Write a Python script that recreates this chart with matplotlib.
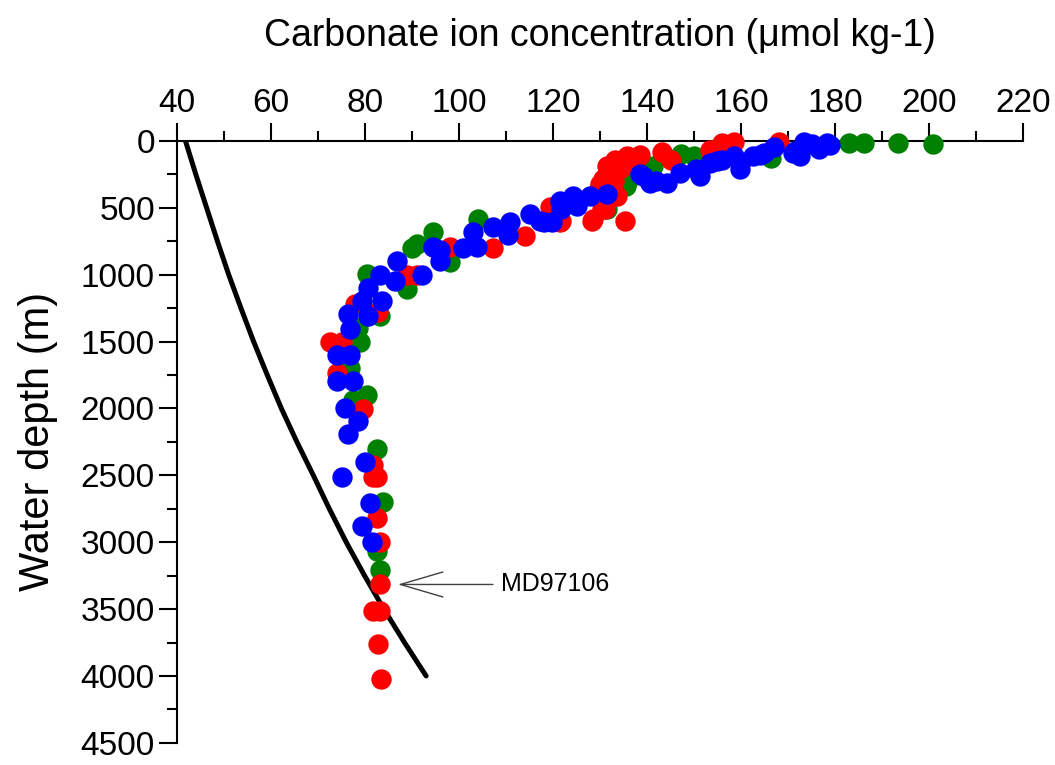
import matplotlib
matplotlib.use('Agg')
import matplotlib.pyplot as plt
from matplotlib.ticker import MultipleLocator

plt.rcParams['font.family'] = ['Liberation Sans', 'DejaVu Sans']

# saturation curve
curve_d = [0, 250, 500, 750, 1000, 1250, 1500, 1750, 2000, 2250, 2500, 2750,
           3000, 3250, 3500, 3750, 4000]
curve_x = [41.8, 44.0, 46.3, 48.6, 51.0, 53.6, 56.3, 59.2, 62.2, 65.5, 69.0, 72.4,
           76.0, 79.9, 84.0, 88.4, 93.0]

green_x = [183.0, 186.2, 193.4, 200.8, 147.3, 150.0, 141.3, 166.3, 136.0, 135.5,
           131.4, 104.0, 94.4, 89.9, 91.0, 98.1, 88.9, 80.4, 83.2, 78.6,
           78.9, 76.8, 80.4, 77.5, 82.5, 83.9, 82.5, 83.2]
green_d = [15, 15, 15, 25, 100, 115, 190, 130, 290, 337,
           508, 585, 680, 800, 770, 905, 1110, 995, 1310, 1400,
           1500, 1700, 1896, 1935, 2302, 2700, 3063, 3211]

red_x = [155.9, 158.6, 168.0, 156.2, 153.4, 143.1, 145.0, 138.5, 135.7, 133.2,
         136.8, 131.4, 134.5, 131.5, 130.7, 132.1, 129.8, 133.6, 130.4, 128.6,
         135.3, 121.8, 119.4, 121.5, 128.2, 131.1, 114.0, 107.2, 98.1, 88.9,
         91.0, 77.9, 82.8, 72.6, 75.0, 74.0, 79.6, 81.8, 81.8, 82.5,
         82.5, 83.2, 83.2, 81.8, 83.2, 82.8, 83.5, 132.5, 134.0, 137.5,
         130.0, 133.0]
red_d = [17, 5, 5, 42, 66, 80, 140, 103, 115, 140,
         130, 189, 200, 250, 287, 337, 360, 410, 508, 582,
         595, 595, 494, 604, 597, 508, 707, 803, 789, 1000,
         1005, 1221, 1282, 1503, 1503, 1737, 2007, 2420, 2511, 2511,
         2817, 3001, 3309, 3518, 3518, 3763, 4021, 220, 160, 150,
         320, 300]

blue_x = [178.3, 178.9, 175.2, 173.3, 176.5, 171.5, 172.6, 171.1, 167.1, 164.0,
          164.8, 162.6, 159.7, 159.8, 158.4, 155.9, 154.8, 153.4, 151.3, 150.5,
          147.0, 144.2, 140.6, 138.5, 139.2, 142.0, 131.4, 127.9, 124.3, 125.0,
          124.3, 121.8, 121.5, 119.7, 117.2, 115.1, 118.0, 110.5, 110.9, 107.3,
          103.0, 103.8, 100.9, 96.0, 96.0, 94.5, 92.1, 86.8, 83.2, 86.4,
          80.7, 79.3, 83.6, 76.4, 80.7, 76.8, 74.0, 76.8, 74.0, 77.5,
          75.7, 78.6, 76.4, 80.0, 75.0, 81.1, 79.3, 81.4]
blue_d = [17, 29, 25, 10, 60, 78, 115, 90, 42, 103,
          90, 115, 164, 213, 115, 140, 152, 164, 263, 213,
          238, 312, 312, 250, 263, 300, 398, 413, 410, 486,
          435, 508, 447, 604, 597, 545, 607, 705, 604, 644,
          678, 789, 803, 815, 899, 789, 1000, 901, 1000, 1049,
          1098, 1196, 1196, 1295, 1307, 1405, 1601, 1601, 1798, 1798,
          1995, 2093, 2191, 2400, 2511, 2707, 2879, 3001]

fig = plt.figure(figsize=(10.55, 7.65), dpi=100)
ax = fig.add_axes([0.1678, 0.029, 0.8019, 0.7867])

ax.plot(curve_x, curve_d, color='black', lw=3.6, solid_capstyle='round', zorder=2)
ax.scatter(green_x, green_d, s=215, color='#008000', lw=0, zorder=3, clip_on=False)
ax.scatter(red_x, red_d, s=215, color='#ff0000', lw=0, zorder=4, clip_on=False)
ax.scatter(blue_x, blue_d, s=215, color='#0000ff', lw=0, zorder=5, clip_on=False)

ax.annotate('MD97106', xy=(87.0, 3316), xytext=(109.0, 3316),
            fontsize=18, va='center', ha='left',
            arrowprops=dict(arrowstyle='->, head_length=1.7, head_width=0.5',
                            color='#404040', lw=1.0, shrinkA=4, shrinkB=0))

ax.set_xlim(40, 220)
ax.set_ylim(4500, 0)
ax.xaxis.set_major_locator(MultipleLocator(20))
ax.xaxis.set_minor_locator(MultipleLocator(10))
ax.yaxis.set_major_locator(MultipleLocator(500))
ax.yaxis.set_minor_locator(MultipleLocator(250))
ax.xaxis.tick_top()
ax.xaxis.set_label_position('top')

ax.spines['right'].set_visible(False)
ax.spines['bottom'].set_visible(False)
ax.spines['top'].set_linewidth(1.5)
ax.spines['left'].set_linewidth(1.5)

ax.tick_params(which='major', direction='out', length=13, width=1.5, labelsize=24, pad=3)
ax.tick_params(which='minor', direction='out', length=7, width=1.5)

ax.set_xlabel('Carbonate ion concentration (\u03bcmol kg-1)', fontsize=27, labelpad=30)
ax.set_ylabel('Water depth (m)', fontsize=30, labelpad=16)

plt.savefig('out.png', dpi=100)
